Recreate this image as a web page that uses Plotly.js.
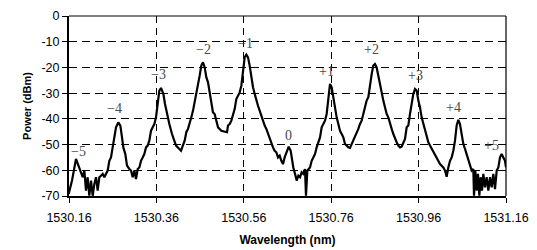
<!DOCTYPE html>
<html>
<head>
<meta charset="utf-8">
<script src="https://cdn.plot.ly/plotly-3.0.1.min.js"></script>
<style>html,body{margin:0;padding:0;background:#fff;}#chart{width:537px;height:250px;}</style>
</head>
<body>
<div id="chart"></div>
<script>
// Wavelength (nm)
const wavelength = [
1530.1592,1530.1669,1530.1760,1530.1837,1530.1913,1530.1951,1530.1989,1530.2027,1530.2065,1530.2104,
1530.2142,1530.2180,1530.2218,1530.2256,1530.2294,1530.2332,1530.2371,1530.2409,1530.2447,1530.2485,
1530.2523,1530.2561,1530.2599,1530.2638,1530.2676,1530.2729,1530.2775,1530.2813,1530.2843,1530.2889,
1530.2927,1530.2981,1530.3019,1530.3057,1530.3095,1530.3133,1530.3172,1530.3210,1530.3248,1530.3286,
1530.3324,1530.3362,1530.3400,1530.3438,1530.3477,1530.3515,1530.3553,1530.3591,1530.3629,1530.3667,
1530.3705,1530.3759,1530.3797,1530.3843,1530.3896,1530.3957,1530.4011,1530.4049,1530.4125,1530.4163,
1530.4247,1530.4285,1530.4323,1530.4361,1530.4399,1530.4438,1530.4476,1530.4514,1530.4552,1530.4590,
1530.4628,1530.4666,1530.4705,1530.4743,1530.4781,1530.4819,1530.4857,1530.4895,1530.4933,1530.4972,
1530.5010,1530.5086,1530.5162,1530.5216,1530.5239,1530.5277,1530.5315,1530.5353,1530.5391,1530.5429,
1530.5467,1530.5506,1530.5544,1530.5582,1530.5620,1530.5658,1530.5696,1530.5734,1530.5773,1530.5811,
1530.5849,1530.5887,1530.5925,1530.5963,1530.6001,1530.6040,1530.6078,1530.6116,1530.6154,1530.6192,
1530.6230,1530.6268,1530.6306,1530.6345,1530.6383,1530.6421,1530.6459,1530.6497,1530.6535,1530.6573,
1530.6627,1530.6673,1530.6695,1530.6733,1530.6772,1530.6810,1530.6848,1530.6886,1530.6924,1530.6962,
1530.7000,1530.7023,1530.7054,1530.7115,1530.7153,1530.7191,1530.7229,1530.7267,1530.7306,1530.7344,
1530.7382,1530.7420,1530.7458,1530.7496,1530.7534,1530.7573,1530.7611,1530.7649,1530.7687,1530.7725,
1530.7763,1530.7801,1530.7840,1530.7878,1530.7916,1530.7954,1530.7992,1530.8030,1530.8068,1530.8106,
1530.8145,1530.8183,1530.8221,1530.8259,1530.8297,1530.8335,1530.8373,1530.8411,1530.8450,1530.8488,
1530.8526,1530.8564,1530.8602,1530.8640,1530.8678,1530.8717,1530.8755,1530.8793,1530.8831,1530.8869,
1530.8907,1530.8945,1530.8984,1530.9022,1530.9060,1530.9098,1530.9136,1530.9174,1530.9212,1530.9250,
1530.9289,1530.9327,1530.9365,1530.9403,1530.9441,1530.9479,1530.9518,1530.9556,1530.9594,1530.9632,
1530.9670,1530.9708,1530.9746,1530.9785,1530.9823,1530.9861,1530.9899,1530.9937,1530.9975,1531.0013,
1531.0052,1531.0090,1531.0128,1531.0166,1531.0204,1531.0242,1531.0280,1531.0319,1531.0357,1531.0395,
1531.0433,1531.0471,1531.0509,1531.0547,1531.0585,1531.0624,1531.0662,1531.0700,1531.0738,1531.0776,
1531.0814,1531.0852,1531.0868,1531.0898,1531.0929,1531.0959,1531.0990,1531.1020,1531.1051,1531.1081,
1531.1120,1531.1158,1531.1196,1531.1234,1531.1272,1531.1310,1531.1348,1531.1387,1531.1425,1531.1463,
1531.1501,1531.1539,1531.1577,1531.1600
];
// Power (dBm)
const power = [
-69.2,-64.0,-55.6,-58.9,-62.7,-60.1,-67.9,-62.7,-69.9,-64.0,
-69.9,-65.3,-62.7,-67.9,-62.7,-62.1,-61.4,-62.7,-61.2,-60.1,
-56.3,-55.0,-51.1,-47.2,-43.3,-41.4,-42.6,-47.2,-51.1,-53.7,
-58.2,-59.5,-60.1,-62.7,-60.1,-63.4,-59.5,-58.9,-56.3,-55.0,
-53.7,-51.1,-50.4,-48.5,-44.6,-43.3,-42.0,-39.4,-32.9,-29.0,
-28.0,-30.3,-34.2,-38.1,-42.0,-45.9,-48.5,-50.4,-51.7,-52.4,
-48.5,-45.2,-43.9,-42.0,-39.4,-36.8,-33.6,-31.0,-27.7,-23.2,
-19.3,-18.0,-20.0,-23.9,-25.8,-29.7,-32.9,-37.5,-38.1,-41.4,
-43.3,-44.6,-44.9,-45.2,-42.6,-42.0,-40.7,-38.1,-36.2,-32.3,
-31.0,-29.7,-27.1,-22.6,-16.1,-15.0,-16.1,-19.3,-23.9,-27.7,
-30.3,-32.9,-34.9,-36.8,-38.8,-40.7,-42.6,-43.9,-45.9,-47.8,
-49.8,-51.1,-52.4,-53.0,-55.0,-54.3,-56.3,-57.6,-55.0,-53.0,
-50.8,-52.4,-55.0,-58.9,-61.4,-64.0,-62.1,-62.7,-60.8,-61.4,
-59.5,-69.9,-60.1,-58.9,-56.3,-55.0,-53.7,-51.1,-49.1,-47.2,
-43.3,-42.0,-40.7,-38.1,-32.9,-26.4,-27.7,-31.6,-36.2,-39.4,
-42.0,-44.6,-45.9,-47.2,-49.8,-50.4,-51.1,-51.3,-49.8,-48.5,
-47.2,-45.9,-43.9,-42.0,-40.7,-38.1,-35.5,-32.9,-31.6,-26.4,
-22.6,-19.3,-18.7,-20.0,-23.2,-27.7,-30.3,-32.9,-35.5,-38.1,
-39.4,-42.0,-43.9,-45.9,-47.8,-49.1,-50.4,-51.1,-50.8,-49.1,
-47.8,-43.3,-42.6,-38.1,-34.2,-30.3,-28.4,-29.0,-32.9,-35.5,
-39.4,-42.0,-43.9,-47.2,-49.1,-50.4,-51.7,-53.0,-54.3,-55.6,
-56.3,-57.6,-58.2,-58.9,-60.1,-62.5,-58.9,-56.3,-55.0,-52.4,
-48.5,-42.6,-40.4,-42.0,-45.9,-49.8,-51.7,-53.7,-56.3,-58.2,
-60.1,-59.5,-69.9,-60.1,-67.9,-61.4,-69.9,-62.7,-67.9,-61.4,
-66.6,-62.7,-67.9,-62.7,-66.6,-61.4,-67.3,-60.1,-58.9,-55.0,
-53.7,-55.0,-56.3,-58.9
];
// Peak labels
const peakLabels = ["\u22125","\u22124","\u22123","\u22122","\u22121","0","+1","+2","+3","+4","+5"];
const peakLabelX = [1530.181,1530.263,1530.364,1530.467,1530.563,1530.663,1530.750,1530.853,1530.954,1531.039,1531.126];
const peakLabelY = [-52.5,-35.8,-22.6,-12.9,-10.5,-46.6,-21.4,-13.2,-23.0,-35.5,-50.5];
// Axis ticks
const xTickVals = [1530.16,1530.36,1530.56,1530.76,1530.96,1531.16];
const xTickText = ["1530.16","1530.36","1530.56","1530.76","1530.96","1531.16"];
const yTickVals = [0,-10,-20,-30,-40,-50,-60,-70];
const yTickText = ["0","-10","-20","-30","-40","-50","-60","-70"];

const trace = {
  x: wavelength, y: power, type: 'scatter', mode: 'lines',
  line: {color: '#000', width: 2.2}, hoverinfo: 'skip'
};

const annotations = peakLabels.map((t, i) => ({
  x: peakLabelX[i], y: peakLabelY[i], xref: 'x', yref: 'y', text: t, showarrow: false,
  font: {family: 'Liberation Serif, Times New Roman, serif', size: 14, color: '#4a4a4a'},
  xanchor: 'center', yanchor: 'middle'
}));

const layout = {
  width: 537, height: 250,
  margin: {l: 69, r: 31, t: 16, b: 54, pad: 0},
  paper_bgcolor: '#fff', plot_bgcolor: '#fff',
  showlegend: false,
  font: {family: 'Liberation Sans, Arial, sans-serif', color: '#000'},
  xaxis: {
    range: [1530.16, 1531.16], tickmode: 'array', tickvals: xTickVals, ticktext: xTickText,
    ticks: 'outside', ticklen: 5, tickwidth: 1, tickcolor: '#000', ticklabelstandoff: 4,
    showline: true, linecolor: '#000', linewidth: 2, mirror: false,
    showgrid: true, gridcolor: '#000', gridwidth: 1, griddash: '7px,5px',
    zeroline: false, tickfont: {size: 12.5, color: '#000'},
    title: {text: 'Wavelength (nm)', font: {size: 12, color: '#000', weight: 'bold'}, standoff: 12}
  },
  yaxis: {
    range: [-70, 0], tickmode: 'array', tickvals: yTickVals, ticktext: yTickText,
    ticks: 'outside', ticklen: 5, tickwidth: 1, tickcolor: '#000',
    showline: true, linecolor: '#000', linewidth: 2, mirror: false,
    showgrid: true, gridcolor: '#000', gridwidth: 1, griddash: '8px,5px',
    zeroline: false, tickfont: {size: 12.5, color: '#000'},
    title: {text: 'Power (dBm)', font: {size: 11, color: '#000', weight: 'bold'}, standoff: 8}
  },
  shapes: [
    {type: 'line', xref: 'paper', yref: 'paper', x0: 0, x1: 1, y0: 1, y1: 1, line: {color: '#000', width: 1.2}},
    {type: 'line', xref: 'paper', yref: 'paper', x0: 1, x1: 1, y0: 0, y1: 1, line: {color: '#000', width: 1.2}}
  ],
  annotations: annotations
};

Plotly.newPlot('chart', [trace], layout, {staticPlot: true, displayModeBar: false});
</script>
</body>
</html>
